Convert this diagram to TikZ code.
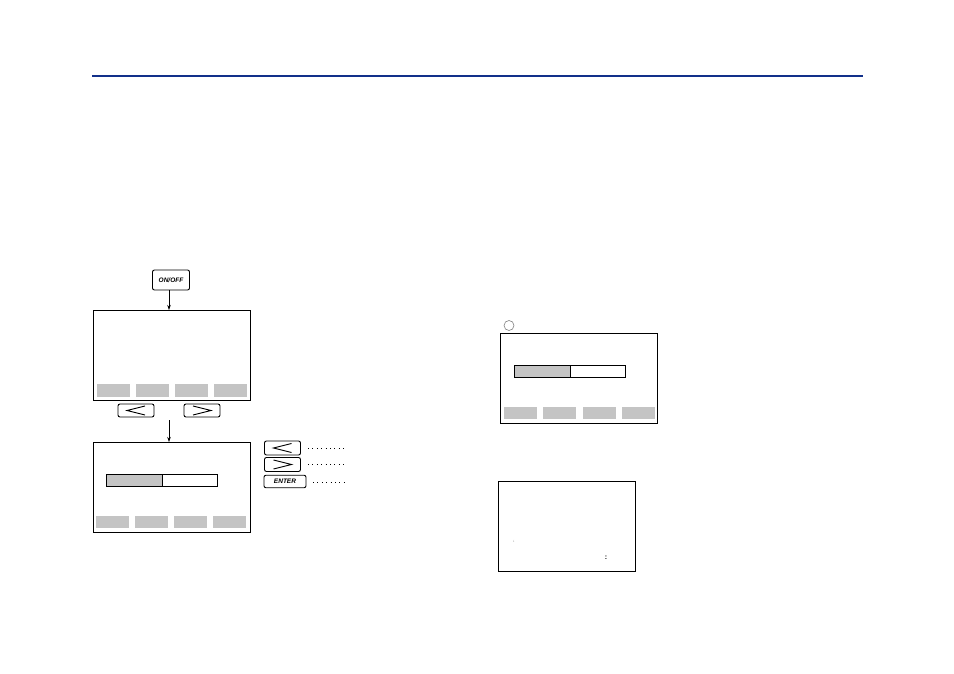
\documentclass[tikz,border=0pt]{standalone}
\usepackage{fontspec}
\setsansfont{Liberation Sans}
\usetikzlibrary{arrows.meta}
\definecolor{rulebl}{HTML}{12308A}
\definecolor{softgr}{HTML}{C4C4C4}
\begin{document}
\begin{tikzpicture}[x=1pt, y=-1pt,
  scrbox/.style = {draw, line width=0.9pt, fill=white},
  softkey/.style = {fill=softgr},
  barbox/.style = {draw, line width=0.8pt},
  hwkey/.style = {draw, line width=0.9pt, rounded corners=2pt, inner sep=0pt,
    font=\sffamily\bfseries\itshape\fontsize{6.5}{7}\selectfont},
  glyph/.style = {line width=0.9pt},
  flowarr/.style = {-{Stealth[length=5pt, width=3.5pt]}, line width=0.6pt},
  dotlead/.style = {line width=0.7pt, dash pattern=on 1pt off 3.4pt}
]
  \useasboundingbox (0,0) rectangle (954,674);
  % header rule
  \fill[rulebl] (92,75) rectangle (863,77.5);
  % ON/OFF key
  \node[hwkey, minimum width=37pt, minimum height=20pt] (keyOnOff) at (171,280) {ON/OFF};
  % screen 1
  \node[scrbox, minimum width=157pt, minimum height=90pt, anchor=north west] (scrOne) at (93,310) {};
  \foreach \x in {97,136,175,214}
    \fill[softkey] (\x,384) rectangle ++(33,12.5);
  \draw[flowarr] (keyOnOff.south -| 169,0) -- (169,310);
  % left / right keys
  \node[hwkey, minimum width=36pt, minimum height=13pt] (keyLa) at (136,410.5) {};
  \node[hwkey, minimum width=36pt, minimum height=13pt] (keyRa) at (202,410.5) {};
  \draw[glyph] ([xshift=9pt,yshift=-4.5pt]keyLa.center) -- ([xshift=-9pt]keyLa.center) -- ([xshift=9pt,yshift=4.5pt]keyLa.center);
  \draw[glyph] ([xshift=-9pt,yshift=-4.5pt]keyRa.center) -- ([xshift=9pt]keyRa.center) -- ([xshift=-9pt,yshift=4.5pt]keyRa.center);
  % screen 2
  \node[scrbox, minimum width=157pt, minimum height=90pt, anchor=north west] (scrTwo) at (93,442) {};
  \draw[flowarr] (169,420) -- (scrTwo.north -| 169,0);
  \fill[softgr] (106,474) rectangle (162,486.5);
  \draw[barbox] (106,474) rectangle (217,486.5);
  \draw[barbox] (162,474) -- (162,486.5);
  \foreach \x in {96,135,174,213}
    \fill[softkey] (\x,516) rectangle ++(33,12);
  % key legend
  \node[hwkey, minimum width=36pt, minimum height=14pt] (keyLb) at (282.5,448) {};
  \node[hwkey, minimum width=36pt, minimum height=14pt] (keyRb) at (282.5,464.5) {};
  \node[hwkey, minimum width=42pt, minimum height=12.5pt] (keyEnter) at (285,481.5) {ENTER};
  \draw[glyph] ([xshift=9pt,yshift=-4.5pt]keyLb.center) -- ([xshift=-9pt]keyLb.center) -- ([xshift=9pt,yshift=4.5pt]keyLb.center);
  \draw[glyph] ([xshift=-9pt,yshift=-4.5pt]keyRb.center) -- ([xshift=9pt]keyRb.center) -- ([xshift=-9pt,yshift=4.5pt]keyRb.center);
  \draw[dotlead] (308,448) -- (344,448);
  \draw[dotlead] (308,464) -- (344,464);
  \draw[dotlead] (313,482) -- (344,482);
  % screen A (right)
  \draw[gray, line width=0.6pt] (509,325.5) circle (5pt);
  \node[scrbox, minimum width=157pt, minimum height=90pt, anchor=north west] (scrA) at (500,333) {};
  \fill[softgr] (514,365) rectangle (570,377.5);
  \draw[barbox] (514,365) rectangle (625.5,377.5);
  \draw[barbox] (570,365) -- (570,377.5);
  \foreach \x in {504,543,583,622}
    \fill[softkey] (\x,407) rectangle ++(32.5,12);
  % screen B (right)
  \node[scrbox, minimum width=137pt, minimum height=90pt, anchor=north west] (scrB) at (498,481) {};
  \node[gray, font=\fontsize{6}{6}\selectfont, inner sep=0pt] (markA) at (514,542) {`};
  \node[font=\sffamily\bfseries\fontsize{7}{7}\selectfont, inner sep=0pt] (markB) at (606,558) {:};
\end{tikzpicture}
\end{document}
